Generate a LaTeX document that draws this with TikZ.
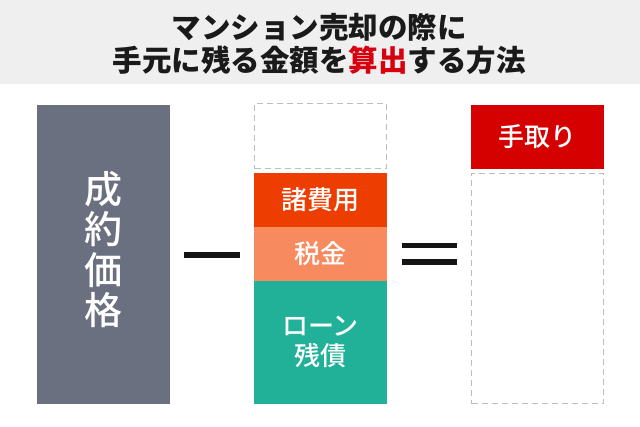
\documentclass[tikz,border=0pt]{standalone}
\usepackage{fontspec}
\setmainfont{Noto Sans CJK JP}
\newfontfamily\labelfont{Noto Sans CJK JP}[UprightFont=* Medium, BoldFont=* Bold]
\usepackage{xcolor}
\usetikzlibrary{positioning}

\definecolor{titlebg}{HTML}{EFEFEF}
\definecolor{titletext}{HTML}{1A1A1A}
\definecolor{accent}{HTML}{D7000F}
\definecolor{price}{HTML}{6B7080}
\definecolor{costs}{HTML}{EE3D00}
\definecolor{tax}{HTML}{F78B5F}
\definecolor{loan}{HTML}{21B199}
\definecolor{takehome}{HTML}{D50000}
\definecolor{dashgray}{HTML}{BDBDBD}
\definecolor{signblack}{HTML}{141414}

\begin{document}
\begin{tikzpicture}[x=1pt, y=-1pt,
	block/.style={rectangle, minimum width=133pt, inner sep=0pt, outer sep=0pt, text=white,
		font=\labelfont\fontsize{26}{30}\selectfont, align=center},
	dashbox/.style={rectangle, draw=dashgray, line width=1.3pt, dash pattern=on 6pt off 4pt,
		minimum width=131.7pt, inner sep=0pt, outer sep=0pt},
	sign/.style={draw=signblack, line width=5.5pt}]

	\useasboundingbox (0,0) rectangle (640,427);
	\fill[titlebg] (0,0) rectangle (640,84);

	% title
	\node[font=\bfseries\fontsize{29.5}{33}\selectfont, text=titletext, align=center] (title) at (319,44)
		{マンション売却の際に\\手元に残る金額を\textcolor{accent}{算出}する方法};

	% left side
	\node[block, fill=price, minimum height=299pt, anchor=north west] (price) at (37,105) {};
	\node[font=\labelfont\fontsize{38}{40.5}\selectfont, text=white, align=center, inner sep=0pt]
		(pricetext) at ([yshift=5pt]price.center) {成\\約\\価\\格};

	% middle column
	\node[dashbox, minimum height=65pt, anchor=north west] (spare) at (254.65,103.65) {};
	\node[block, fill=costs, minimum height=54pt, below=4pt of spare] (costs) {諸費用};
	\node[block, fill=tax, minimum height=54pt, below=0pt of costs] (tax) {税金};
	\node[block, fill=loan, minimum height=123pt, below=0pt of tax] (loan) {ローン\\残債};

	% right column
	\node[block, fill=takehome, minimum height=64pt, anchor=north west] (net) at (471,105) {手取り};
	\node[dashbox, minimum height=230pt, below=4.65pt of net] (rest) {};

	% signs
	\draw[sign] (184,255) -- (240,255);
	\draw[sign] (402,245.5) -- (457,245.5);
	\draw[sign] (402,262) -- (457,262);
\end{tikzpicture}
\end{document}
